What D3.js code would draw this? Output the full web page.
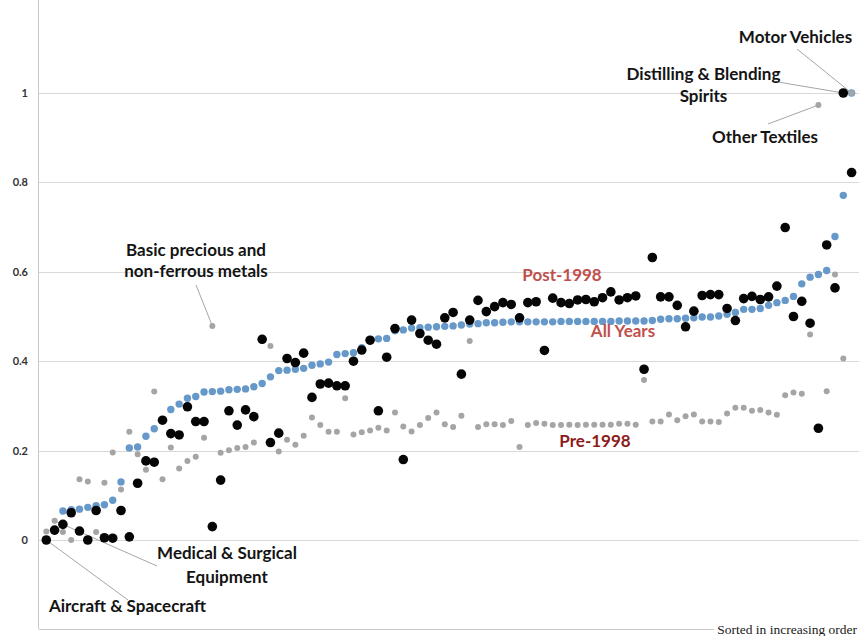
<!DOCTYPE html>
<html>
<head>
<meta charset="utf-8">
<script src="https://cdn.jsdelivr.net/npm/d3@7"></script>
<style>
  body { margin: 0; background: #fff; }
  svg { display: block; }
</style>
</head>
<body>
<svg id="chart" width="859" height="636"></svg>
<script>
// Industries ranked by the all-years value (rank 0 = lowest).
const allYears = [
  0.000, 0.020, 0.065, 0.068, 0.069, 0.073, 0.077, 0.079, 0.089, 0.130,
  0.206, 0.208, 0.232, 0.249, 0.268, 0.292, 0.304, 0.317, 0.321, 0.331,
  0.332, 0.333, 0.336, 0.337, 0.338, 0.343, 0.350, 0.365, 0.379, 0.380,
  0.382, 0.384, 0.391, 0.394, 0.398, 0.415, 0.417, 0.419, 0.430, 0.445,
  0.450, 0.451, 0.468, 0.470, 0.474, 0.475, 0.476, 0.477, 0.478, 0.479,
  0.481, 0.483, 0.484, 0.486, 0.486, 0.487, 0.488, 0.488, 0.488, 0.488,
  0.488, 0.488, 0.489, 0.489, 0.489, 0.489, 0.489, 0.489, 0.489, 0.490,
  0.490, 0.490, 0.490, 0.491, 0.494, 0.495, 0.495, 0.496, 0.497, 0.499,
  0.499, 0.501, 0.505, 0.509, 0.516, 0.516, 0.518, 0.525, 0.531, 0.536,
  0.545, 0.573, 0.588, 0.594, 0.603, 0.679, 0.771, 1.000
];

const pre1998 = [
  0.019, 0.043, 0.018, 0.000, 0.136, 0.131, 0.018, 0.128, 0.196, 0.113,
  0.242, 0.192, 0.157, 0.332, 0.136, 0.207, 0.160, 0.177, 0.186, 0.229,
  0.479, 0.195, 0.201, 0.206, 0.208, 0.218, 0.445, 0.434, 0.198, 0.224,
  0.213, 0.233, 0.274, 0.257, 0.242, 0.242, 0.317, 0.236, 0.241, 0.245,
  0.251, 0.245, 0.285, 0.254, 0.243, 0.257, 0.273, 0.285, 0.259, 0.253,
  0.278, 0.445, 0.253, 0.259, 0.259, 0.257, 0.266, 0.208, 0.257, 0.262,
  0.260, 0.257, 0.257, 0.258, 0.257, 0.258, 0.258, 0.258, 0.258, 0.260,
  0.260, 0.258, 0.358, 0.265, 0.265, 0.281, 0.268, 0.277, 0.281, 0.265,
  0.265, 0.264, 0.283, 0.296, 0.296, 0.289, 0.291, 0.285, 0.280, 0.324,
  0.330, 0.327, 0.460, 0.973, 0.333, 0.594, 0.406, 1.000
];

const post1998 = [
  0.000, 0.022, 0.035, 0.061, 0.020, 0.000, 0.066, 0.005, 0.004, 0.066,
  0.007, 0.127, 0.177, 0.174, 0.268, 0.238, 0.235, 0.298, 0.265, 0.265,
  0.030, 0.134, 0.289, 0.257, 0.291, 0.276, 0.449, 0.218, 0.239, 0.406,
  0.397, 0.418, 0.319, 0.349, 0.351, 0.345, 0.345, 0.400, 0.425, 0.447,
  0.289, 0.409, 0.473, 0.180, 0.492, 0.462, 0.447, 0.438, 0.497, 0.509,
  0.371, 0.492, 0.536, 0.511, 0.522, 0.531, 0.527, 0.497, 0.531, 0.533,
  0.424, 0.541, 0.531, 0.529, 0.537, 0.538, 0.533, 0.542, 0.555, 0.537,
  0.542, 0.546, 0.382, 0.632, 0.544, 0.544, 0.525, 0.477, 0.512, 0.547,
  0.549, 0.549, 0.518, 0.491, 0.540, 0.545, 0.538, 0.544, 0.568, 0.699,
  0.500, 0.534, 0.485, 0.250, 0.660, 0.564, 1.000, 0.822
];

const yTicks = [0, 0.2, 0.4, 0.6, 0.8, 1];
const yTickLabels = ["0", "0.2", "0.4", "0.6", "0.8", "1"];

// Named industries: rank and the series the note refers to.
const namedIndustries = ["Aircraft & Spacecraft", "Medical & Surgical Equipment",
  "Basic precious and non-ferrous metals", "Other Textiles",
  "Distilling & Blending Spirits", "Motor Vehicles"];
const namedRanks = [0, 1, 20, 93, 96, 97];
const namedSeries = ["post", "pre", "pre", "pre", "post", "pre"];

const seriesNames = ["Post-1998", "All Years", "Pre-1998"];

// ---------------------------------------------------------------
const svg = d3.select("#chart");
const W = 859, H = 636;
const plotLeft = 38.5;

const x = d3.scaleLinear().domain([0, allYears.length - 1]).range([46.3, 851.6]);
const y = d3.scaleLinear().domain([-0.2, 1.2]).range([629.4, 3.6]);

const values = { all: allYears, pre: pre1998, post: post1998 };

// gridlines
const grid = svg.append("g")
  .attr("transform", `translate(${plotLeft},0)`)
  .call(d3.axisLeft(y).tickValues(yTicks).tickSize(-(W - plotLeft)).tickFormat(""));
grid.select(".domain").remove();
grid.selectAll(".tick line").attr("stroke", "#d9d9d9").attr("stroke-width", 1)
  .attr("shape-rendering", "crispEdges");

// plot frame (left and bottom)
svg.append("line").attr("x1", plotLeft).attr("x2", plotLeft).attr("y1", 0).attr("y2", y(-0.2))
  .attr("stroke", "#c8c8c8").attr("shape-rendering", "crispEdges");
svg.append("line").attr("x1", plotLeft).attr("x2", 714).attr("y1", y(-0.2)).attr("y2", y(-0.2))
  .attr("stroke", "#c8c8c8").attr("shape-rendering", "crispEdges");

// y tick labels
const yAxis = svg.append("g")
  .attr("transform", `translate(28,0)`)
  .call(d3.axisLeft(y).tickValues(yTicks).tickSize(0).tickPadding(0)
    .tickFormat((d, i) => yTickLabels[i]));
yAxis.select(".domain").remove();
yAxis.selectAll("text")
  .attr("font-family", "Lato, 'Open Sans', sans-serif")
  .attr("font-weight", "bold")
  .attr("font-size", 11)
  .attr("fill", "#333");

// leader lines for named industries
const leaderEnds = [[128, 600], [157, 566], [196, 285], [768, 124], [772, 81], [797, 49]];
const leaders = svg.append("g");
namedRanks.forEach((r, i) => {
  leaders.append("line")
    .attr("x1", x(r)).attr("y1", y(values[namedSeries[i]][r]))
    .attr("x2", leaderEnds[i][0]).attr("y2", leaderEnds[i][1])
    .attr("stroke", "#a6a6a6").attr("stroke-width", 1);
});

// points: all years, then pre, then post on top
svg.append("g").selectAll("circle").data(allYears).join("circle")
  .attr("cx", (d, i) => x(i)).attr("cy", d => y(d)).attr("r", 3.7)
  .attr("fill", "#6699c9");
svg.append("g").selectAll("circle").data(pre1998).join("circle")
  .attr("cx", (d, i) => x(i)).attr("cy", d => y(d)).attr("r", 3.0)
  .attr("fill", "#a5a5a5");
svg.append("g").selectAll("circle").data(post1998).join("circle")
  .attr("cx", (d, i) => x(i)).attr("cy", d => y(d)).attr("r", 4.8)
  .attr("fill", "#050505");

// annotation text
const labelFont = "Lato, 'Open Sans', sans-serif";
function label(lines, cx, baseline, color, size, lineGap) {
  const t = svg.append("text")
    .attr("font-family", labelFont).attr("font-weight", "bold")
    .attr("font-size", size).attr("fill", color).attr("text-anchor", "middle");
  lines.forEach((s, i) => t.append("tspan").attr("x", cx).attr("y", baseline + i * lineGap).text(s));
}
label(["Aircraft & Spacecraft"], 127.5, 612, "#141414", 17, 0);
label(["Medical & Surgical", "Equipment"], 227, 559, "#141414", 17, 24);
label(["Basic precious and", "non-ferrous metals"], 196, 256, "#141414", 17, 21);
label(["Other Textiles"], 765, 143, "#141414", 17, 0);
label(["Distilling & Blending", "Spirits"], 703.5, 80, "#141414", 17, 22);
label(["Motor Vehicles"], 795.5, 43, "#141414", 17, 0);

label([seriesNames[0]], 562, 281, "#c0504d", 17, 0);
label([seriesNames[1]], 623, 337, "#c0504d", 17, 0);
label([seriesNames[2]], 595, 447, "#8c1c1c", 17, 0);

svg.append("text")
  .attr("x", 857).attr("y", 634).attr("text-anchor", "end")
  .attr("font-family", "'Liberation Serif', 'DejaVu Serif', serif")
  .attr("font-size", 13.5).attr("fill", "#1a1a1a")
  .text("Sorted in increasing order");
</script>
</body>
</html>
